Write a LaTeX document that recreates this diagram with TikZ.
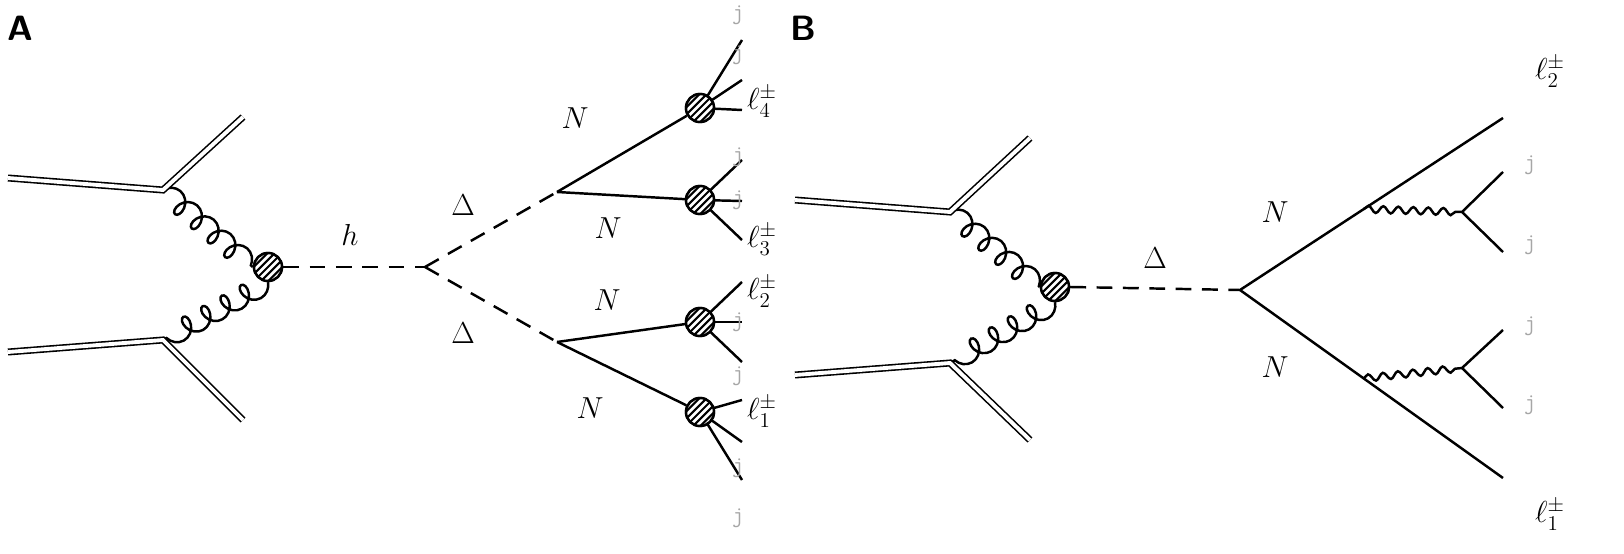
\documentclass[tikz,border=0pt]{standalone}
\usetikzlibrary{decorations.pathmorphing,calc}
\begin{document}
\begin{tikzpicture}[x=0.02cm,y=-0.02cm,
  ln/.style={line width=1.4pt},
  dbl/.style={line width=0.9pt,double,double distance=2.2pt},
  dsh/.style={line width=1.4pt,dash pattern=on 9pt off 6pt},
  gluon/.style={line width=1.4pt,decorate,decoration={coil,aspect=0.8,amplitude=0.21cm,segment length=0.44cm}},
  wavy/.style={line width=1.4pt,decorate,decoration={snake,amplitude=0.07cm,segment length=0.3cm}},
  blob/.style={circle,draw,line width=1.4pt,fill=white,minimum size=0.56cm,inner sep=0pt,
    path picture={\foreach \i in {-12,-6,...,12}{\draw[line width=1.2pt] ([xshift=\i*0.024cm-0.5cm,yshift=-0.5cm]path picture bounding box.center) -- ++(1cm,1cm);}}},
  lab/.style={font=\fontsize{18}{20}\selectfont},
  jl/.style={font=\fontsize{13}{14}\selectfont\ttfamily,text=gray!70},
  pl/.style={font=\fontsize{20}{22}\selectfont\sffamily\bfseries}]
\useasboundingbox (0,0) rectangle (1624,554);
% ===== Panel A
\node[pl] (A) at (20,28) {A};
\coordinate (pa1) at (8,178); \coordinate (va1) at (163,190); \coordinate (oa1) at (243,117);
\coordinate (pa2) at (8,352); \coordinate (va2) at (163,340); \coordinate (oa2) at (243,420);
\node[blob] (ba) at (268,267) {};
\draw[gluon] (va1) -- (ba.west);
\draw[gluon] (ba.south) -- (va2);
\draw[dbl] (pa1) -- (va1) -- (oa1);
\draw[dbl] (pa2) -- (va2) -- (oa2);
\node[blob] (ba) at (268,267) {};
\coordinate (h) at (425,267);
\draw[dsh] (ba.east) -- (h);
\node[lab] (hl) at (350,235) {$h$};
\coordinate (d1) at (557,192); \coordinate (d2) at (557,342);
\draw[dsh] (h) -- (d1); \draw[dsh] (h) -- (d2);
\node[lab] (dl1) at (463,205) {$\Delta$};
\node[lab] (dl2) at (463,333) {$\Delta$};
\node[blob] (b1) at (700,108) {};
\node[blob] (b2) at (700,200) {};
\node[blob] (b3) at (700,322) {};
\node[blob] (b4) at (700,412) {};
\draw[ln] (d1) -- (b1); \draw[ln] (d1) -- (b2);
\draw[ln] (d2) -- (b3); \draw[ln] (d2) -- (b4);
\node[lab] (n1) at (575,118) {$N$};
\node[lab] (n2) at (608,228) {$N$};
\node[lab] (n3) at (607,300) {$N$};
\node[lab] (n4) at (590,408) {$N$};
\foreach \b/\ya/\yb/\yc in {b1/40/80/110, b2/160/201/240, b3/282/322/362, b4/400/442/480}{
  \coordinate (e1) at (742,\ya); \coordinate (e2) at (742,\yb); \coordinate (e3) at (742,\yc);
  \draw[ln] (\b.center) -- (e1); \draw[ln] (\b.center) -- (e2); \draw[ln] (\b.center) -- (e3);
  \node[blob] at (\b) {};
}
\foreach \y in {15,55,157,200,322,376,468,518}{\node[jl] at (738,\y) {j};}
\node[lab] (l4) at (762,102) {$\ell_4^\pm$};
\node[lab] (l3) at (762,240) {$\ell_3^\pm$};
\node[lab] (l2) at (762,292) {$\ell_2^\pm$};
\node[lab] (l1) at (762,412) {$\ell_1^\pm$};
% ===== Panel B
\node[pl] (B) at (803,28) {B};
\coordinate (pb1) at (795,200); \coordinate (vb1) at (950,212); \coordinate (ob1) at (1030,138);
\coordinate (pb2) at (795,375); \coordinate (vb2) at (950,363); \coordinate (ob2) at (1030,440);
\node[blob] (bb) at (1055,287) {};
\draw[gluon] (vb1) -- (bb.west);
\draw[gluon] (bb.south) -- (vb2);
\draw[dbl] (pb1) -- (vb1) -- (ob1);
\draw[dbl] (pb2) -- (vb2) -- (ob2);
\node[blob] (bb) at (1055,287) {};
\coordinate (v) at (1240,290);
\draw[dsh] (bb.east) -- (v);
\node[lab] (dlb) at (1155,258) {$\Delta$};
\coordinate (t1) at (1503,118); \coordinate (t2) at (1503,478);
\draw[ln] (v) -- (t1); \draw[ln] (v) -- (t2);
\coordinate (w1) at ($(v)!0.47!(t1)$);
\coordinate (w2) at ($(v)!0.47!(t2)$);
\coordinate (x1) at (1462,212); \coordinate (x2) at (1462,368);
\draw[wavy] (w1) -- (x1); \draw[wavy] (w2) -- (x2);
\coordinate (j1) at (1503,172); \coordinate (j2) at (1503,252);
\coordinate (j3) at (1503,330); \coordinate (j4) at (1503,408);
\draw[ln] (x1) -- (j1); \draw[ln] (x1) -- (j2);
\draw[ln] (x2) -- (j3); \draw[ln] (x2) -- (j4);
\foreach \y in {165,245,326,405}{\node[jl] at (1530,\y) {j};}
\node[lab] (nb1) at (1275,212) {$N$};
\node[lab] (nb2) at (1275,367) {$N$};
\node[lab] (lb2) at (1550,72) {$\ell_2^\pm$};
\node[lab] (lb1) at (1550,515) {$\ell_1^\pm$};
\end{tikzpicture}
\end{document}
